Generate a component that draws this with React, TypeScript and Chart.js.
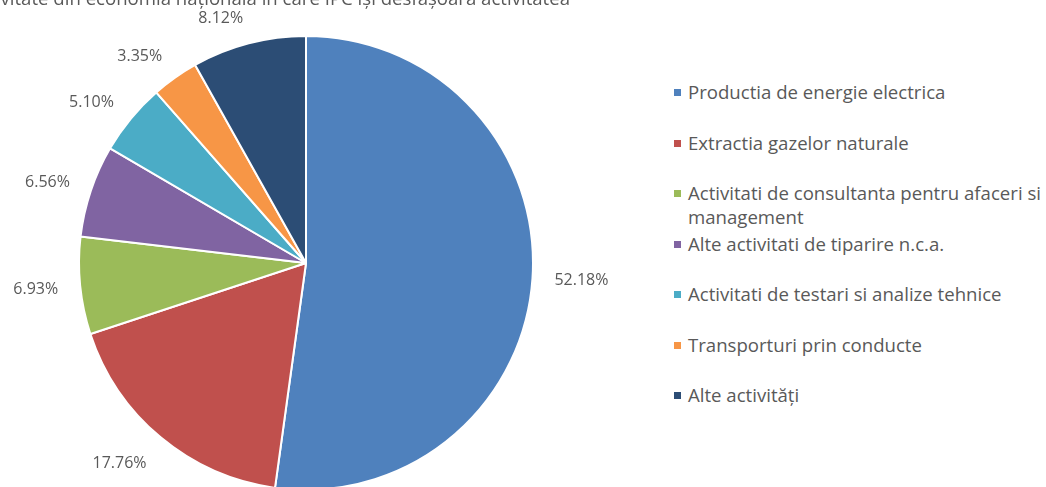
import React, { useEffect, useRef } from "react";
import { Chart, registerables } from "chart.js";

Chart.register(...registerables);

const categories: string[][] = [
  ["Productia de energie electrica"],
  ["Extractia gazelor naturale"],
  ["Activitati de consultanta pentru afaceri si", "management"],
  ["Alte activitati de tiparire n.c.a."],
  ["Activitati de testari si analize tehnice"],
  ["Transporturi prin conducte"],
  ["Alte activități"],
];
const shares: number[] = [52.18, 17.76, 6.93, 6.56, 5.1, 3.35, 8.12];
const colors: string[] = ["#4F81BD", "#C0504D", "#9BBB59", "#8064A2", "#4BACC6", "#F79646", "#2C4D75"];
const titleText = "Domeniul de activitate din economia națională în care IPC își desfășoară activitatea";

const FONT = '"Open Sans", sans-serif';
const TEXT_COLOR = "#595959";

const labelPlugin = {
  id: "outsideLabels",
  afterDatasetsDraw(chart: any) {
    const ctx = chart.ctx;
    const meta = chart.getDatasetMeta(0);
    ctx.save();
    ctx.font = `16px ${FONT}`;
    ctx.fillStyle = TEXT_COLOR;
    ctx.textAlign = "center";
    ctx.textBaseline = "middle";
    meta.data.forEach((arc: any, i: number) => {
      const p = arc.getProps(["x", "y", "startAngle", "endAngle", "outerRadius"], true);
      const mid = (p.startAngle + p.endAngle) / 2;
      const txt = shares[i].toFixed(2) + "%";
      const hw = ctx.measureText(txt).width / 2;
      const c = Math.cos(mid);
      const s = Math.sin(mid);
      const hh = s > 0 ? 12 : 4;
      const r = p.outerRadius + 22;
      ctx.fillText(txt, p.x + c * r + Math.sign(c) * hw, p.y + s * (r + hh));
    });
    ctx.font = `18.6px ${FONT}`;
    ctx.textAlign = "right";
    ctx.textBaseline = "alphabetic";
    ctx.fillText(titleText, 570, 5);
    ctx.restore();
  },
};

function PieChart() {
  const ref = useRef<HTMLCanvasElement | null>(null);
  useEffect(() => {
    if (!ref.current) return;
    const chart = new Chart(ref.current, {
      type: "pie",
      data: {
        labels: categories.map((c) => c.join(" ")),
        datasets: [
          {
            data: shares,
            backgroundColor: colors,
            borderColor: "#ffffff",
            borderWidth: 2,
          },
        ],
      },
      options: {
        responsive: false,
        animation: false,
        layout: { padding: 35 },
        plugins: {
          legend: { display: false },
          tooltip: { enabled: false },
          title: { display: false },
        },
      },
      plugins: [labelPlugin],
    });
    return () => chart.destroy();
  }, []);
  return <canvas ref={ref} width={612} height={526} style={{ position: "absolute", left: 0, top: 0 }} />;
}

export default function App() {
  return (
    <div
      style={{
        position: "absolute",
        left: 0,
        top: 0,
        width: 1046,
        height: 487,
        overflow: "hidden",
        background: "#ffffff",
      }}
    >
      <PieChart />
      {categories.map((lines, i) => (
        <div
          key={i}
          style={{
            position: "absolute",
            left: 674,
            top: 80 + 50.5 * i,
            height: 24,
            whiteSpace: "nowrap",
          }}
        >
          <span
            style={{
              position: "absolute",
              left: 0,
              top: 9,
              width: 7,
              height: 7,
              background: colors[i],
            }}
          />
          <div
            style={{
              position: "absolute",
              left: 14,
              top: 0,
              font: `18.6px ${FONT}`,
              lineHeight: "24px",
              color: TEXT_COLOR,
            }}
          >
            {lines.map((l, j) => (
              <div key={j}>{l}</div>
            ))}
          </div>
        </div>
      ))}
    </div>
  );
}
